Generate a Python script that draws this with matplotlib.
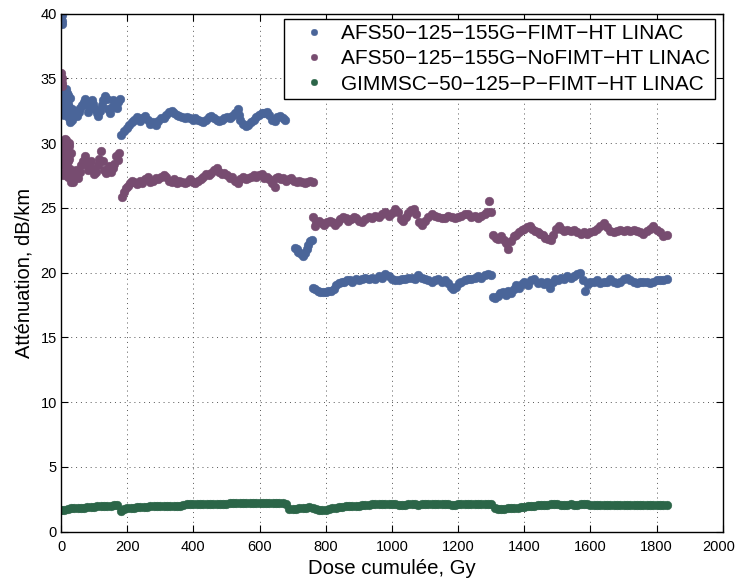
import matplotlib
matplotlib.use("Agg")
import matplotlib.pyplot as plt
from matplotlib.transforms import ScaledTranslation

plt.rcParams['font.family'] = ['Liberation Sans', 'DejaVu Sans']

# ---- Data ----
fimt_x = [1, 1, 2, 2, 3,
          4, 5, 6, 8, 9, 10, 12, 13, 14, 16, 17, 18, 20, 21, 22, 24, 25, 26, 28, 30, 32, 34,
          38, 43, 48, 53, 58, 63, 68, 73, 78, 83, 88, 93, 98, 103, 108, 113, 118, 123, 128, 133,
          138, 143, 148, 153, 158, 163, 168, 173, 178,
          182, 190, 198, 206, 214, 222, 230, 238, 246, 254, 262, 270, 278, 286, 294, 302, 310, 318,
          326, 334, 342, 350, 358, 366, 374, 382, 390, 398, 406, 414, 422, 430, 438, 446, 454, 462,
          470, 478, 486, 494, 502, 510, 518, 526, 534, 538, 542, 550, 558, 566, 574, 582, 590, 598,
          606, 614, 622, 630, 638, 646, 654, 662, 670, 678,
          707, 712, 717, 722, 727, 732, 737, 742, 747, 752, 757,
          760, 768, 776, 784, 792, 800, 808, 816, 824, 832, 840, 848, 856, 864, 872, 880, 890, 900,
          910, 920, 930, 940, 950, 960, 970, 980, 990, 1000, 1010, 1020, 1030, 1040, 1050, 1060,
          1070, 1080, 1090, 1100, 1110, 1120, 1130, 1140, 1150, 1160, 1170, 1178, 1186, 1194, 1202,
          1210, 1220, 1230, 1240, 1250, 1260, 1270, 1280, 1290, 1298,
          1304, 1312, 1320, 1328, 1336, 1344, 1352, 1360, 1368, 1376, 1384, 1392, 1400, 1410, 1420,
          1430, 1440, 1450, 1460, 1470, 1478, 1486, 1494, 1502, 1510, 1520, 1530, 1540, 1550, 1560,
          1568, 1576, 1584, 1592, 1600, 1610, 1620, 1630, 1640, 1650, 1660, 1670, 1680, 1690, 1700,
          1710, 1720, 1730, 1740, 1750, 1760, 1770, 1780, 1790, 1800, 1810, 1820, 1830]
fimt_y = [40.0, 39.6, 39.2, 39.9, 39.4,
          32.5, 33.6, 33.2, 34.0, 33.0, 32.2, 33.6, 32.9, 34.2, 32.8, 33.4, 33.9, 32.4, 33.7, 33.0,
          31.9, 32.8, 33.5, 31.6, 32.4, 31.8, 32.6,
          32.2, 32.5, 32.1, 32.4, 32.7, 32.9, 33.2, 33.4, 32.9, 32.4, 32.8, 33.3, 33.0, 32.6, 32.3,
          32.1, 32.5, 32.9, 33.3, 33.6, 33.4, 32.6, 32.3, 32.8, 33.3, 33.0, 32.7, 33.2, 33.4,
          30.6, 30.9, 31.2, 31.4, 31.6, 31.8, 32.0, 31.7, 31.9, 32.1, 31.8, 31.5, 31.6, 31.4, 31.7,
          31.9, 31.9, 32.2, 32.4, 32.5, 32.3, 32.2, 32.1, 32.0, 31.9, 32.0, 31.9, 31.8, 31.9, 31.8,
          31.7, 31.6, 31.8, 32.0, 32.1, 31.9, 31.8, 31.7, 31.8, 31.9, 32.0, 31.9, 32.1, 32.3, 32.6,
          32.2, 31.8, 31.5, 31.3, 31.4, 31.6, 31.8, 32.0, 32.2, 32.3, 32.3, 32.4, 32.2, 31.8, 31.7,
          32.0, 32.1, 31.9, 31.8,
          21.9, 21.8, 21.6, 21.5, 21.4, 21.3, 21.5, 21.8, 22.1, 22.4, 22.5,
          18.8, 18.7, 18.6, 18.5, 18.5, 18.5, 18.6, 18.6, 18.7, 19.0, 19.2, 19.3, 19.3, 19.4, 19.4,
          19.3, 19.5, 19.4, 19.5, 19.6, 19.5, 19.6, 19.5, 19.7, 19.6, 19.9, 19.7, 19.5, 19.4, 19.4,
          19.5, 19.5, 19.6, 19.6, 19.5, 19.8, 19.6, 19.5, 19.4, 19.3, 19.4, 19.5, 19.3, 19.4, 19.2,
          18.9, 18.7, 18.9, 19.2, 19.3, 19.4, 19.5, 19.5, 19.6, 19.7, 19.6, 19.8, 19.9, 19.8,
          18.1, 18.0, 18.2, 18.4, 18.5, 18.3, 18.6, 18.4, 18.7, 19.0, 18.8, 19.1, 19.3, 19.0, 19.4,
          19.5, 19.2, 19.3, 19.1, 19.3, 18.8, 19.3, 19.5, 19.4, 19.6, 19.5, 19.7, 19.6, 19.7, 19.9,
          20.0, 19.4, 18.6, 19.1, 19.3, 19.3, 19.4, 19.2, 19.3, 19.3, 19.5, 19.3, 19.2, 19.3, 19.5,
          19.6, 19.4, 19.3, 19.2, 19.3, 19.3, 19.3, 19.2, 19.3, 19.4, 19.4, 19.4, 19.5]

nofimt_x = [1, 2, 2, 3,
            3, 4, 5, 7, 8, 9, 11, 12, 13, 15, 16, 17, 19, 20, 21, 23, 24, 25, 27, 29, 31, 33,
            36, 41, 46, 51, 56, 61, 66, 71, 76, 81, 86, 91, 96, 101, 106, 111, 116, 121, 126, 131,
            136, 141, 146, 151, 156, 161, 166, 171, 176,
            184, 190, 196, 202, 208, 214, 222, 230, 238, 246, 254, 262, 270, 278, 286, 294, 302, 310,
            318, 326, 334, 342, 350, 358, 366, 374, 382, 390, 398, 406, 414, 422, 430, 438, 446, 454,
            462, 470, 478, 486, 494, 502, 510, 518, 526, 534, 542, 550, 558, 566, 574, 582, 590, 598,
            606, 614, 622, 630, 638, 646, 650, 656, 664, 672, 680, 688, 696, 704, 712, 720, 728, 736,
            744, 752, 760,
            762, 766, 772, 780, 788, 796, 804, 812, 820, 828, 836, 844, 852, 860, 868, 876, 884, 892,
            900, 910, 920, 930, 940, 950, 960, 970, 980, 990, 1000, 1010, 1018, 1026, 1034, 1042,
            1050, 1058, 1066, 1074, 1082, 1090, 1100, 1110, 1120, 1130, 1140, 1150, 1160, 1170, 1180,
            1190, 1200, 1210, 1220, 1230, 1240, 1250, 1260, 1270, 1280, 1288, 1292, 1298,
            1306, 1314, 1322, 1330, 1338, 1346, 1352, 1360, 1368, 1376, 1384, 1392, 1400, 1408, 1416,
            1424, 1432, 1440, 1448, 1456, 1464, 1472, 1480, 1488, 1496, 1504, 1512, 1520, 1530, 1540,
            1550, 1560, 1570, 1580, 1590, 1600, 1610, 1620, 1630, 1640, 1650, 1660, 1670, 1680, 1690,
            1700, 1710, 1720, 1730, 1740, 1750, 1760, 1770, 1780, 1790, 1800, 1810, 1820, 1830]
nofimt_y = [35.4, 35.0, 34.6, 34.4,
            28.5, 29.0, 27.5, 29.5, 28.3, 30.0, 27.8, 30.3, 29.0, 30.2, 27.8, 28.2, 29.6, 28.6, 27.4,
            28.8, 29.8, 30.0, 28.0, 29.2, 27.0, 27.6,
            27.0, 27.4, 27.9, 27.3, 27.8, 28.3, 28.6, 29.0, 28.4, 27.9, 28.2, 28.6, 28.0, 27.6, 27.8,
            28.3, 28.8, 29.4, 28.6, 27.9, 27.7, 28.0, 28.2, 27.8, 28.1, 28.4, 29.0, 28.7, 29.2,
            25.8, 26.2, 26.5, 26.7, 26.9, 27.1, 27.0, 26.8, 27.1, 26.9, 27.2, 27.4, 27.0, 27.1, 27.3,
            27.2, 27.4, 27.5, 27.4, 27.1, 27.0, 27.2, 26.9, 27.1, 27.0, 26.9, 27.0, 27.2, 27.0, 26.9,
            27.1, 27.2, 27.4, 27.6, 27.5, 27.7, 27.9, 28.1, 27.8, 27.6, 27.7, 27.5, 27.3, 27.4, 27.1,
            26.95, 27.2, 27.4, 27.2, 27.3, 27.4, 27.5, 27.4, 27.5, 27.6, 27.3, 27.4, 27.2, 26.9, 26.6,
            27.3, 27.4, 27.2, 27.3, 27.1, 27.2, 27.3, 27.1, 27.0, 27.1, 27.0, 26.9, 27.0, 27.1, 27.0,
            24.3, 23.6, 23.9, 24.0, 23.8, 23.7, 23.9, 24.0, 23.9, 23.7, 23.9, 24.1, 24.3, 24.2, 24.0,
            24.1, 24.3, 24.2, 24.0, 23.9, 24.1, 24.3, 24.2, 24.4, 24.3, 24.5, 24.7, 24.4, 24.6, 24.9,
            24.7, 24.1, 24.0, 24.3, 24.6, 24.8, 24.9, 24.5, 23.9, 23.7, 24.0, 24.3, 24.5, 24.4, 24.3,
            24.2, 24.2, 24.4, 24.3, 24.2, 24.3, 24.4, 24.5, 24.5, 24.3, 24.4, 24.2, 24.4, 24.5, 24.7,
            25.5, 24.7,
            22.9, 22.7, 22.6, 22.8, 22.5, 22.3, 21.8, 22.4, 22.8, 22.9, 23.1, 23.3, 23.4, 23.5, 23.6,
            23.4, 23.2, 23.1, 23.0, 22.9, 22.7, 22.6, 22.5, 22.9, 23.4, 23.6, 23.4, 23.2, 23.3, 23.2,
            23.3, 23.1, 23.0, 23.1, 23.0, 23.1, 23.2, 23.4, 23.6, 23.8, 23.5, 23.2, 23.1, 23.2, 23.3,
            23.2, 23.3, 23.2, 23.3, 23.2, 23.1, 23.0, 23.2, 23.4, 23.6, 23.3, 23.1, 22.8, 22.9]

gimmsc_x = [0, 10, 20, 30, 40, 50, 60, 70, 80, 90, 100, 110, 120, 130, 140, 150, 160, 170, 180, 190,
            200, 210, 220, 230, 240, 250, 260, 270, 280, 290, 300, 310, 320, 330, 340, 350, 360, 370,
            380, 390, 400, 410, 420, 430, 440, 450, 460, 470, 480, 490, 500, 510, 520, 530, 540, 550,
            560, 570, 580, 590, 600, 610, 620, 630, 640, 650, 660, 670, 680, 690, 700, 710, 720, 730,
            740, 750, 760, 770, 780, 790, 800, 810, 820, 830, 840, 850, 860, 870, 880, 890, 900, 910,
            920, 930, 940, 950, 960, 970, 980, 990, 1000, 1010, 1020, 1030, 1040, 1050, 1060, 1070,
            1080, 1090, 1100, 1110, 1120, 1130, 1140, 1150, 1160, 1170, 1180, 1190, 1200, 1210, 1220,
            1230, 1240, 1250, 1260, 1270, 1280, 1290, 1300, 1310, 1320, 1330, 1340, 1350, 1360, 1370,
            1380, 1390, 1400, 1410, 1420, 1430, 1440, 1450, 1460, 1470, 1480, 1490, 1500, 1510, 1520,
            1530, 1540, 1550, 1560, 1570, 1580, 1590, 1600, 1610, 1620, 1630, 1640, 1650, 1660, 1670,
            1680, 1690, 1700, 1710, 1720, 1730, 1740, 1750, 1760, 1770, 1780, 1790, 1800, 1810, 1820,
            1830]
gimmsc_y = [1.65, 1.7, 1.75, 1.8, 1.8, 1.85, 1.85, 1.85, 1.9, 1.9, 1.9, 1.95, 1.95, 1.95, 1.95, 2.0,
            2.05, 2.05, 1.6, 1.75,
            1.85, 1.85, 1.85, 1.9, 1.9, 1.9, 1.9, 1.95, 1.95, 1.95, 1.95, 2.0, 2.0, 2.0, 2.0, 2.0,
            2.0, 2.05, 2.1, 2.1,
            2.1, 2.1, 2.1, 2.1, 2.1, 2.15, 2.15, 2.15, 2.15, 2.15, 2.15, 2.2, 2.2, 2.2, 2.2, 2.2,
            2.2, 2.2, 2.2, 2.2,
            2.2, 2.2, 2.2, 2.2, 2.2, 2.2, 2.2, 2.2, 2.1, 1.75, 1.75, 1.75, 1.8, 1.8, 1.85, 1.9,
            1.85, 1.75, 1.7, 1.7,
            1.7, 1.75, 1.8, 1.85, 1.9, 1.9, 1.95, 1.95, 2.0, 2.0, 2.0, 2.05, 2.05, 2.05, 2.1, 2.1,
            2.1, 2.15, 2.15, 2.1,
            2.1, 2.1, 2.05, 2.05, 2.05, 2.1, 2.1, 2.1, 2.05, 2.1, 2.1, 2.1, 2.1, 2.1, 2.1, 2.1,
            2.1, 2.1, 2.05, 2.05,
            2.1, 2.1, 2.1, 2.1, 2.1, 2.1, 2.1, 2.1, 2.1, 2.15, 2.15, 1.8, 1.75, 1.75, 1.75, 1.8,
            1.8, 1.8, 1.85, 1.9,
            1.9, 1.95, 2.0, 2.0, 2.05, 2.05, 2.05, 2.05, 2.1, 2.1, 2.1, 2.05, 2.05, 2.05, 2.1, 2.05,
            2.05, 2.1, 2.1, 2.1,
            2.05, 2.05, 2.05, 2.05, 2.05, 2.05, 2.05, 2.05, 2.05, 2.05, 2.05, 2.05, 2.05, 2.05,
            2.05, 2.05, 2.05, 2.05, 2.05, 2.05, 2.05, 2.05, 2.05, 2.05]

series_labels = ['AFS50\u2212125\u2212155G\u2212FIMT\u2212HT LINAC',
                 'AFS50\u2212125\u2212155G\u2212NoFIMT\u2212HT LINAC',
                 'GIMMSC\u221250\u2212125\u2212P\u2212FIMT\u2212HT LINAC']
series_colors = ['#4a6599', '#774c70', '#2b6548']
x_ticks = [0, 200, 400, 600, 800, 1000, 1200, 1400, 1600, 1800, 2000]
y_ticks = [0, 5, 10, 15, 20, 25, 30, 35, 40]

fig = plt.figure(figsize=(7.37, 5.79), dpi=100)
ax = fig.add_axes([0.0828, 0.082, 0.898, 0.8946])

for xs, ys, lab, col in zip([fimt_x, nofimt_x, gimmsc_x], [fimt_y, nofimt_y, gimmsc_y],
                            series_labels, series_colors):
    ax.plot(xs, ys, linestyle='none', marker='o', ms=6.3, color=col, mec=col, mew=0.3, label=lab)

ax.set_xlim(0, 2000)
ax.set_ylim(0, 40)
ax.set_xticks(x_ticks)
ax.set_yticks(y_ticks)
ax.tick_params(direction='in', length=5, width=0.8, top=True, right=True, labelsize=10.5)
ax.tick_params(axis='x', pad=6)
ax.tick_params(axis='y', pad=3)
ax.grid(True, linestyle=(0, (1, 4)), color='#555555', linewidth=0.7)
for s in ax.spines.values():
    s.set_linewidth(1.0)

# keep the last x tick label ("2000") inside the figure edge
last_lab = ax.get_xticklabels()[-1]
last_lab.set_transform(last_lab.get_transform() + ScaledTranslation(-4 / 100, 0, fig.dpi_scale_trans))

ax.set_xlabel('Dose cumulée, Gy', fontsize=14.7, labelpad=3.5)
ax.set_ylabel('Atténuation, dB/km', fontsize=14.5, labelpad=5)

leg = ax.legend(loc='upper right', bbox_to_anchor=(715 / 737, 1 - 19 / 579),
                bbox_transform=fig.transFigure, borderaxespad=0,
                fontsize=15, frameon=True, fancybox=False,
                edgecolor='black', framealpha=1, handletextpad=0.05,
                borderpad=0.24, labelspacing=0.3, markerscale=0.75, handlelength=2.45)
leg.get_frame().set_linewidth(1.0)

fig.savefig('out.png', dpi=100)
